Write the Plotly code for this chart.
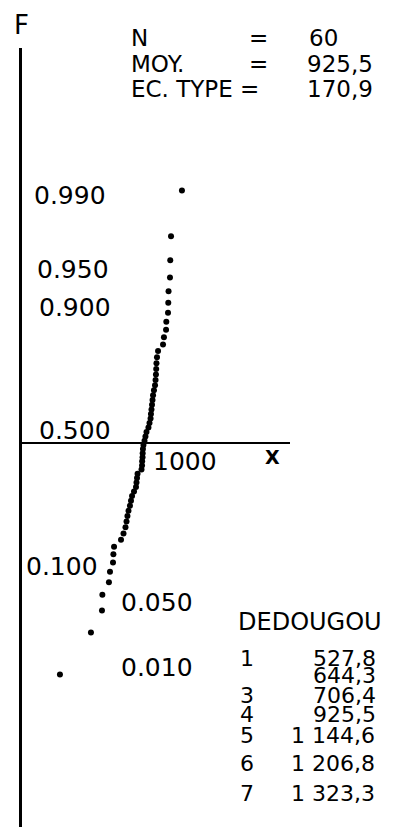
import plotly.graph_objects as go
from statistics import NormalDist

# ---------------- data ----------------
N = 60
rain = [305, 541, 625, 628, 678, 686, 709, 712, 717, 770,
        789, 804, 812, 819, 827, 838, 846, 854, 869, 884,
        888, 892, 896, 926, 930, 931, 934, 935, 937, 941,
        949, 956, 964, 979, 987, 995, 998, 1002, 1006, 1010,
        1014, 1021, 1029, 1033, 1036, 1038, 1040, 1044, 1052, 1090,
        1097, 1113, 1115, 1128, 1130, 1132, 1143, 1145, 1151, 1234]

prob_ticks = [0.990, 0.950, 0.900, 0.500, 0.100, 0.050, 0.010]
prob_text = ["0.990", "0.950", "0.900", "0.500", "0.100", "0.050", "0.010"]

stat_labels = ["N", "MOY.", "EC. TYPE ="]
stat_eq = ["=", "=", ""]
stat_values = ["60", "925,5", "170,9"]

station = "DEDOUGOU"
table_index = ["1", "", "3", "4", "5", "6", "7"]
table_values = ["527,8", "644,3", "706,4", "925,5", "1 144,6", "1 206,8", "1 323,3"]

x_tick_value = 1000
x_tick_text = "1000"

# ---------------- geometry ----------------
W, H = 402, 827
L, R, T, B = 14, 120, 40, 5
PW, PH = W - L - R, H - T - B
FONT = "DejaVu Sans"
LOWER_SCALE = 0.9166   # the printed probability scale is compressed below F = 0.5

nd = NormalDist()

def prob_axis(p):
    z = nd.inv_cdf(p)
    return z if z >= 0 else z * LOWER_SCALE

def paper(xp, yp):
    return (xp - L) / PW, (H - B - yp) / PH

ranks = list(range(1, N + 1))
y_vals = [prob_axis((i - 0.5) / N) for i in ranks]

fig = go.Figure()
fig.add_trace(go.Scatter(
    x=sorted(rain), y=y_vals, mode="markers",
    marker=dict(size=6, color="black"),
    showlegend=False, hoverinfo="skip"))

ann = []

def add_px(text, xp, yp, size, xanchor="left", bold=False):
    xx, yy = paper(xp, yp)
    ann.append(dict(text=("<b>%s</b>" % text) if bold else text,
                    x=xx, y=yy, xref="paper", yref="paper",
                    xanchor=xanchor, yanchor="middle", showarrow=False,
                    borderpad=0,
                    font=dict(family=FONT, size=size, color="black")))

# F and X axis titles
add_px("F", 5, 17, 26)
add_px("X", 256, 449, 19, bold=True)

# probability scale labels (placed at their quantile on the probability scale)
lab_x = [25, 28, 30, 30, 17, 112, 112]
lab_shift = [2, 0, 0, 13, 0, 0, 0]
for p, t, xp, sh in zip(prob_ticks, prob_text, lab_x, lab_shift):
    xx, _ = paper(xp, 0)
    ann.append(dict(text=t, x=xx, y=prob_axis(p), xref="paper", yref="y",
                    xanchor="left", yanchor="middle", yshift=sh, showarrow=False,
                    borderpad=0,
                    font=dict(family=FONT, size=25, color="black")))

# x tick label
ann.append(dict(text=x_tick_text, x=x_tick_value, y=0, xref="x", yref="y",
                xanchor="left", yanchor="middle", xshift=1, yshift=-18,
                showarrow=False, borderpad=0,
                font=dict(family=FONT, size=25, color="black")))

# statistics header
row_y = [30, 56, 81]
val_x = [300, 298, 298]
for lab, eq, val, yp, vx in zip(stat_labels, stat_eq, stat_values, row_y, val_x):
    add_px(lab, 122, yp, 23)
    if eq:
        add_px(eq, 240, yp, 23)
    add_px(val, vx, yp, 23)

# quantile table
add_px(station, 229, 614, 24)
tab_y = [650, 667, 687, 706, 727, 755, 785]
val_left = [304, 304, 304, 304, 282, 282, 282]
for idx, val, yp, vx in zip(table_index, table_values, tab_y, val_left):
    if idx:
        add_px(idx, 231, yp, 22)
    add_px(val, vx, yp, 22)

fig.update_layout(
    width=W, height=H,
    margin=dict(l=L, r=R, t=T, b=B),
    paper_bgcolor="white", plot_bgcolor="white",
    xaxis=dict(range=[16, 2057], showgrid=False, zeroline=False,
               showticklabels=False, ticks="", showline=False),
    yaxis=dict(range=[-3.668, 3.744], showgrid=False, showticklabels=False,
               ticks="", zeroline=True, zerolinecolor="black", zerolinewidth=2,
               showline=True, linecolor="black", linewidth=3),
    annotations=ann,
)

fig.write_html("out.html")
